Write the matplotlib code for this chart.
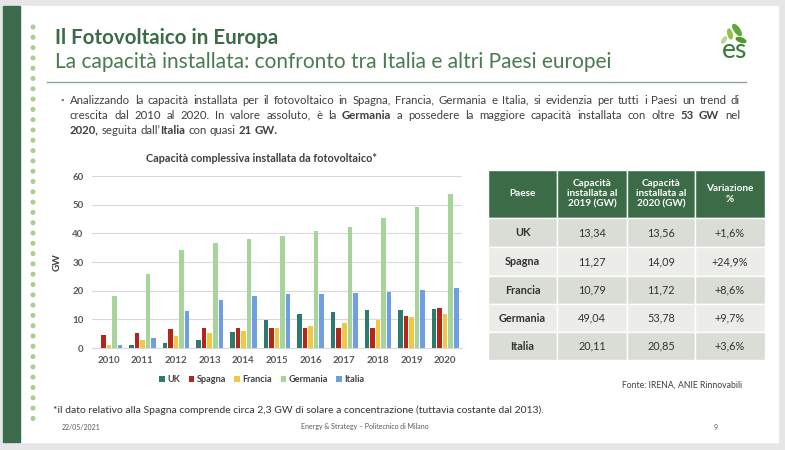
import math
import matplotlib
matplotlib.use("Agg")
import matplotlib.pyplot as plt
from matplotlib.patches import Rectangle, Ellipse, Circle
from matplotlib.font_manager import FontProperties
import numpy as np

plt.rcParams["font.family"] = ["Lato", "DejaVu Sans"]

# ---- data ----
years = [2010, 2011, 2012, 2013, 2014, 2015, 2016, 2017, 2018, 2019, 2020]
uk = [0.1, 1.0, 1.7, 2.9, 5.5, 9.6, 11.9, 12.7, 13.1, 13.34, 13.56]
spagna = [4.4, 5.3, 6.5, 6.9, 6.9, 6.9, 6.9, 6.9, 7.0, 11.27, 14.09]
francia = [1.0, 2.9, 4.3, 5.1, 5.8, 7.0, 7.6, 8.6, 9.6, 10.79, 11.72]
germania = [18.0, 25.9, 34.1, 36.7, 37.9, 39.2, 40.7, 42.3, 45.2, 49.04, 53.78]
italia = [1.1, 3.4, 12.8, 16.6, 18.2, 18.8, 19.0, 19.2, 19.6, 20.11, 20.85]

series_names = ["UK", "Spagna", "Francia", "Germania", "Italia"]
series_colors = ["#2f7a6e", "#b3261b", "#f2c744", "#a6d49b", "#6f9ee3"]

table_header = ["Paese", "Capacità\ninstallata al\n2019 (GW)", "Capacità\ninstallata al\n2020 (GW)", "Variazione\n%"]
table_paesi = ["UK", "Spagna", "Francia", "Germania", "Italia"]
table_2019 = ["13,34", "11,27", "10,79", "49,04", "20,11"]
table_2020 = ["13,56", "14,09", "11,72", "53,78", "20,85"]
table_var = ["+1,6%", "+24,9%", "+8,6%", "+9,7%", "+3,6%"]

W, H = 785, 450
GREEN = "#3b6b47"
TXT = "#404040"

fig = plt.figure(figsize=(W / 100, H / 100), dpi=100)
fig.patch.set_facecolor("#e6e6e6")
bg = fig.add_axes([0, 0, 1, 1])
bg.set_xlim(0, W)
bg.set_ylim(H, 0)
bg.axis("off")

# slide
bg.add_patch(Rectangle((3, 6), 775, 436, color="white", zorder=0))
bg.add_patch(Rectangle((3, 6), 17, 436, color="#3a6b4a", zorder=1))
for y in np.arange(27, 425, 10.3):
    bg.add_patch(Circle((33, y), 1.8, color="#a9cf8f", zorder=1))

bg.text(55, 38, "Il Fotovoltaico in Europa", fontsize=14.8, fontweight="bold",
        color=GREEN, va="center", ha="left")
bg.text(55, 62, "La capacità installata: confronto tra Italia e altri Paesi europei",
        fontsize=15, color="#4a7a50", va="center", ha="left")
bg.plot([47, 746], [82, 82], color="#8fa58f", lw=1)

# logo
for (cx, cy, w, h, a, c) in [(737, 30, 5, 13, -35, "#5ea83a"), (730, 34, 4, 10, -15, "#8cc63f"),
                             (741, 40, 4, 10, -70, "#4c9a2a"), (724, 40, 3, 7, 35, "#b5d98a")]:
    bg.add_patch(Ellipse((cx, cy), w, h, angle=a, color=c))
bg.text(722, 50, "es", fontsize=19, color="#2e7d32", va="center", ha="left")

# ---- justified paragraph, one text per word ----
renderer = fig.canvas.get_renderer()


def parse(line):
    words = [[]]
    for i, part in enumerate(line.split("**")):
        bold = i % 2 == 1
        for j, p in enumerate(part.split(" ")):
            if j > 0:
                words.append([])
            if p:
                words[-1].append((p, bold))
    return [w for w in words if w]


def metrics(s, bold, size):
    fp = FontProperties(family=["Lato", "DejaVu Sans"], weight="bold" if bold else "normal", size=size)
    return renderer.get_text_width_height_descent(s, fp, ismath=False)


def width_of(s, bold, size):
    return metrics("l" + s + "l", bold, size)[0] - metrics("ll", bold, size)[0]


def put(s, bold, size, x, base):
    # shift so every word's bitmap lands on the same pixel baseline
    _, h, d = metrics(s, bold, size)
    y = base + math.floor(h + 1e-9) - math.floor(h - d + 1e-9) - d
    bg.text(x, y, s, fontsize=size, fontweight="bold" if bold else "normal",
            color=TXT, va="baseline", ha="left")


def draw_line(line, x0, x1, base, size, justify):
    words = parse(line)
    widths = [sum(width_of(s, b, size) for s, b in w) for w in words]
    if justify and len(words) > 1:
        gap = (x1 - x0 - sum(widths)) / (len(words) - 1)
    else:
        gap = width_of(" ", False, size)
    x = x0
    for w, ww in zip(words, widths):
        xx = x
        for s, b in w:
            put(s, b, size, xx, base)
            xx += width_of(s, b, size)
        x += ww + gap


para = [
    "Analizzando la capacità installata per il fotovoltaico in Spagna, Francia, Germania e Italia, si evidenzia per tutti i Paesi un trend di",
    "crescita dal 2010 al 2020. In valore assoluto, è la **Germania** a possedere la maggiore capacità installata con oltre **53 GW** nel",
    "**2020,** seguita dall\u2019**Italia** con quasi **21 GW.**",
]
bg.text(62, 100, "\u25aa", fontsize=6, color="#7a7a7a", va="center", ha="center")
for i, line in enumerate(para):
    draw_line(line, 70, 740, 104 + i * 15, 8.2, i < 2)

# ---- bar chart ----
ax = fig.add_axes([92 / W, (H - 348) / H, 370 / W, (348 - 176) / H])
x = np.arange(len(years))
step = 0.165
bw = 0.135
all_series = [uk, spagna, francia, germania, italia]
handles = []
for k, (vals, name, col) in enumerate(zip(all_series, series_names, series_colors)):
    h = ax.bar(x + (k - 2) * step, vals, width=bw, color=col, label=name, zorder=3)
    handles.append(h)
ax.set_xlim(-0.5, len(years) - 0.5)
ax.set_ylim(0, 60)
ax.set_yticks(range(0, 61, 10))
ax.set_xticks(x)
ax.set_xticklabels([str(y) for y in years])
ax.grid(axis="y", color="#d9d9d9", lw=0.8, zorder=0)
for s in ["top", "right", "left"]:
    ax.spines[s].set_visible(False)
ax.spines["bottom"].set_color("#d9d9d9")
ax.tick_params(length=0, labelsize=7, labelcolor="#595959", pad=6)
for lab in ax.get_xticklabels() + ax.get_yticklabels():
    lab.set_fontweight("bold")
ax.set_ylabel("GW", fontsize=7.2, fontweight="bold", color="#404040", labelpad=8)
ax.set_facecolor("none")
bg.text(262, 158, "Capacità complessiva installata da fotovoltaico*", fontsize=7.8,
        fontweight="bold", color=TXT, va="center", ha="center")
leg = fig.legend(handles=handles, loc="center", bbox_to_anchor=(262 / W, 1 - 380 / H),
                 ncol=5, frameon=False, fontsize=6.6, handlelength=0.6, handleheight=0.6,
                 handletextpad=0.3, columnspacing=0.9)
for t in leg.get_texts():
    t.set_color("#404040")
    t.set_fontweight("bold")

# ---- table ----
col_x = [488, 557, 627, 695, 765]
row_y = [170, 218, 247, 276, 304, 332, 360]
row_cols = ["#d9ddd5", "#ecede9", "#d9ddd5", "#ecede9", "#d9ddd5"]
for c in range(4):
    x0, x1 = col_x[c], col_x[c + 1]
    bg.add_patch(Rectangle((x0, row_y[0]), x1 - x0, row_y[1] - row_y[0],
                           facecolor=GREEN, edgecolor="white", lw=1))
    bg.text((x0 + x1) / 2, (row_y[0] + row_y[1]) / 2, table_header[c], color="white",
            fontsize=7.2, fontweight="bold", ha="center", va="center", linespacing=1.2)
rows = list(zip(table_paesi, table_2019, table_2020, table_var))
for r, row in enumerate(rows):
    y0, y1 = row_y[r + 1], row_y[r + 2]
    for c in range(4):
        x0, x1 = col_x[c], col_x[c + 1]
        bg.add_patch(Rectangle((x0, y0), x1 - x0, y1 - y0, facecolor=row_cols[r],
                               edgecolor="white", lw=1))
        bg.text((x0 + x1) / 2, (y0 + y1) / 2, row[c], color="#333333", fontsize=7.8,
                fontweight="bold" if c == 0 else "normal", ha="center", va="center")
bg.text(742, 385, "Fonte: IRENA, ANIE Rinnovabili", fontsize=6.2, color=TXT, ha="right", va="center")

# ---- footnote / footer ----
bg.text(53, 410, "*il dato relativo alla Spagna comprende circa 2,3 GW di solare a concentrazione (tuttavia costante dal 2013).",
        fontsize=7.5, color="#333333", ha="left", va="center")
bg.text(62, 427, "22/05/2021", fontsize=5, color="#595959", ha="left", va="center")
bg.text(365, 427, "Energy & Strategy \u2013 Politecnico di Milano", fontsize=5, color="#595959",
        ha="center", va="center")
bg.text(716, 427, "9", fontsize=5, color="#595959", ha="center", va="center")

fig.savefig("out.png", dpi=100, facecolor=fig.get_facecolor())
